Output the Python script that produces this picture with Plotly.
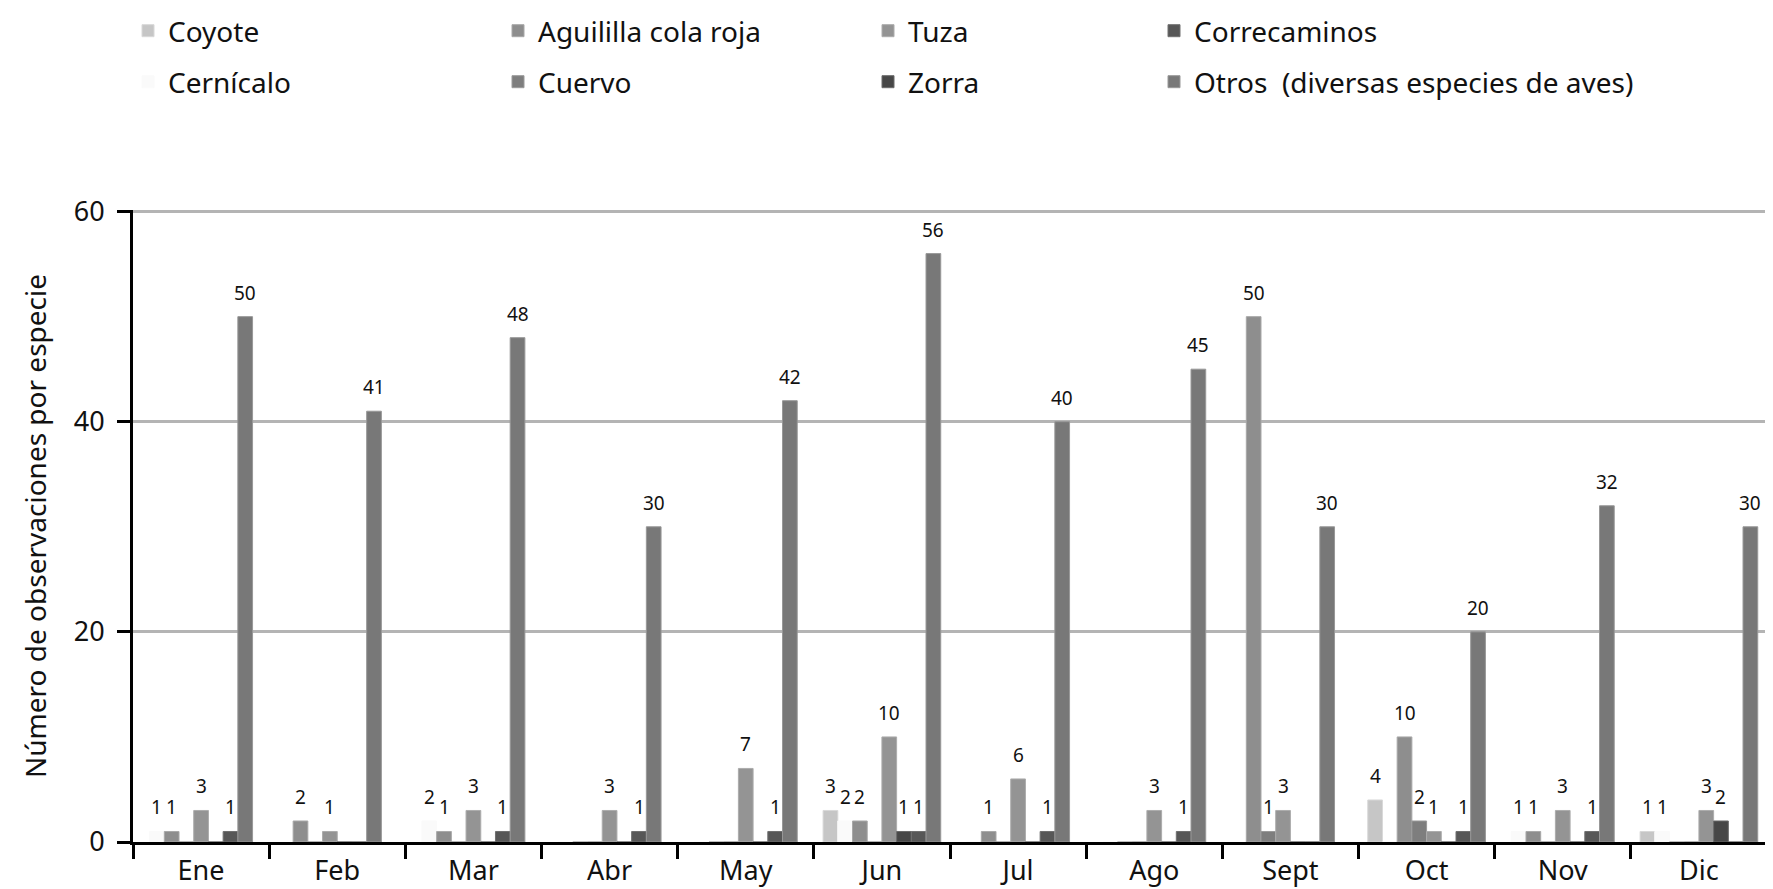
import plotly.graph_objects as go

months = ["Ene", "Feb", "Mar", "Abr", "May", "Jun", "Jul", "Ago", "Sept", "Oct", "Nov", "Dic"]

# None = species not part of that month's group, 0 = no observations
coyote = [None, None, None, None, None, 3, None, None, None, 4, None, 1]
cernicalo = [1, None, 2, 0, 0, 2, 0, 0, None, 0, 1, 1]
aguililla = [1, 2, 1, 0, 0, 2, 1, 0, 50, 10, 1, 0]
cuervo = [0, 0, 0, 0, 0, 0, 0, 0, 1, 2, 0, 0]
tuza = [3, 1, 3, 3, 7, 10, 6, 3, 3, 1, 3, 3]
zorra = [0, 0, 0, 0, 0, 1, 0, 0, 0, 0, 0, 2]
correcaminos = [1, 0, 1, 1, 1, 1, 1, 1, 0, 1, 1, 0]
otros = [50, 41, 48, 30, 42, 56, 40, 45, 30, 20, 32, 30]

series_names = ["Coyote", "Cernícalo", "Aguililla cola roja", "Cuervo", "Tuza",
                "Zorra", "Correcaminos", "Otros  (diversas especies de aves)"]
series_values = [coyote, cernicalo, aguililla, cuervo, tuza, zorra, correcaminos, otros]
colors = ["#c6c6c6", "#fafafa", "#8e8e8e", "#7e7e7e", "#949494", "#474747", "#575757", "#787878"]
line_colors = ["#d8d8d8", "#fafafa", "#a8a8a8", "#9a9a9a", "#acacac", "#6a6a6a", "#707070", "#989898"]

# legend layout (column-major, 4 columns x 2 rows)
legend_col = [0, 0, 1, 1, 2, 2, 3, 3]
legend_row = [0, 1, 0, 1, 0, 1, 0, 1]
col_x = [120, 490, 860, 1146]
row_y = [23, 74]
W_PX, H_PX = 1773, 889

BAR_W = 0.108
FONT = "Noto Sans"

fig = go.Figure()
annotations = []

for k, (name, vals) in enumerate(zip(series_names, series_values)):
    offsets = []
    for m in range(len(months)):
        present = [j for j in range(len(series_values)) if series_values[j][m] is not None]
        n = len(present)
        if k in present:
            i = present.index(k)
            off = (i - n / 2) * BAR_W
        else:
            off = 0
        offsets.append(off)
        v = vals[m]
        if v:
            annotations.append(dict(
                x=m + off + BAR_W / 2, y=v, xref="x", yref="y",
                text=str(v), showarrow=False, yanchor="bottom", xanchor="center",
                yshift=9, font=dict(family=FONT, size=19, color="#111111"),
            ))
    lg = "legend" if k == 0 else f"legend{k + 1}"
    fig.add_trace(go.Bar(
        x=months, y=vals, name=name,
        offset=offsets, width=BAR_W,
        marker=dict(color=colors[k], line=dict(color=line_colors[k], width=1)),
        legend=lg, showlegend=True, cliponaxis=False,
    ))

annotations.append(dict(
    x=-0.06, y=0.5, xref="paper", yref="paper",
    text="Número de observaciones por especie", textangle=-90,
    showarrow=False, xanchor="center", yanchor="middle",
    font=dict(family=FONT, size=28, color="#111111"),
))

layout_legends = {}
for k in range(len(series_names)):
    key = "legend" if k == 0 else f"legend{k + 1}"
    layout_legends[key] = dict(
        x=col_x[legend_col[k]] / W_PX, y=1 - row_y[legend_row[k]] / H_PX,
        xref="container", yref="container", xanchor="left", yanchor="middle",
        bgcolor="rgba(0,0,0,0)", borderwidth=0,
        font=dict(family=FONT, size=28, color="#111111"),
    )

fig.update_layout(
    width=W_PX, height=H_PX,
    margin=dict(l=125, r=14, t=202, b=55, autoexpand=False),
    paper_bgcolor="white", plot_bgcolor="white",
    barmode="overlay",
    font=dict(family=FONT, color="#111111"),
    annotations=annotations,
    **layout_legends,
)

fig.update_xaxes(
    type="category", tickson="boundaries", range=[-0.5, 11.5],
    showline=True, linecolor="black", linewidth=3,
    ticks="outside", ticklen=14, tickwidth=3, tickcolor="black",
    ticklabelstandoff=3,
    tickfont=dict(family=FONT, size=27, color="#111111"),
    showgrid=False, automargin=False,
)
fig.update_yaxes(
    range=[0, 60.15], tickvals=[0, 20, 40, 60],
    showline=True, linecolor="black", linewidth=3,
    ticks="outside", ticklen=13, tickwidth=3, tickcolor="black",
    ticklabelstandoff=7,
    tickfont=dict(family=FONT, size=27, color="#111111"),
    showgrid=True, gridcolor="#b4b4b4", gridwidth=3,
    zeroline=False, automargin=False,
)

fig.write_html("out.html")
